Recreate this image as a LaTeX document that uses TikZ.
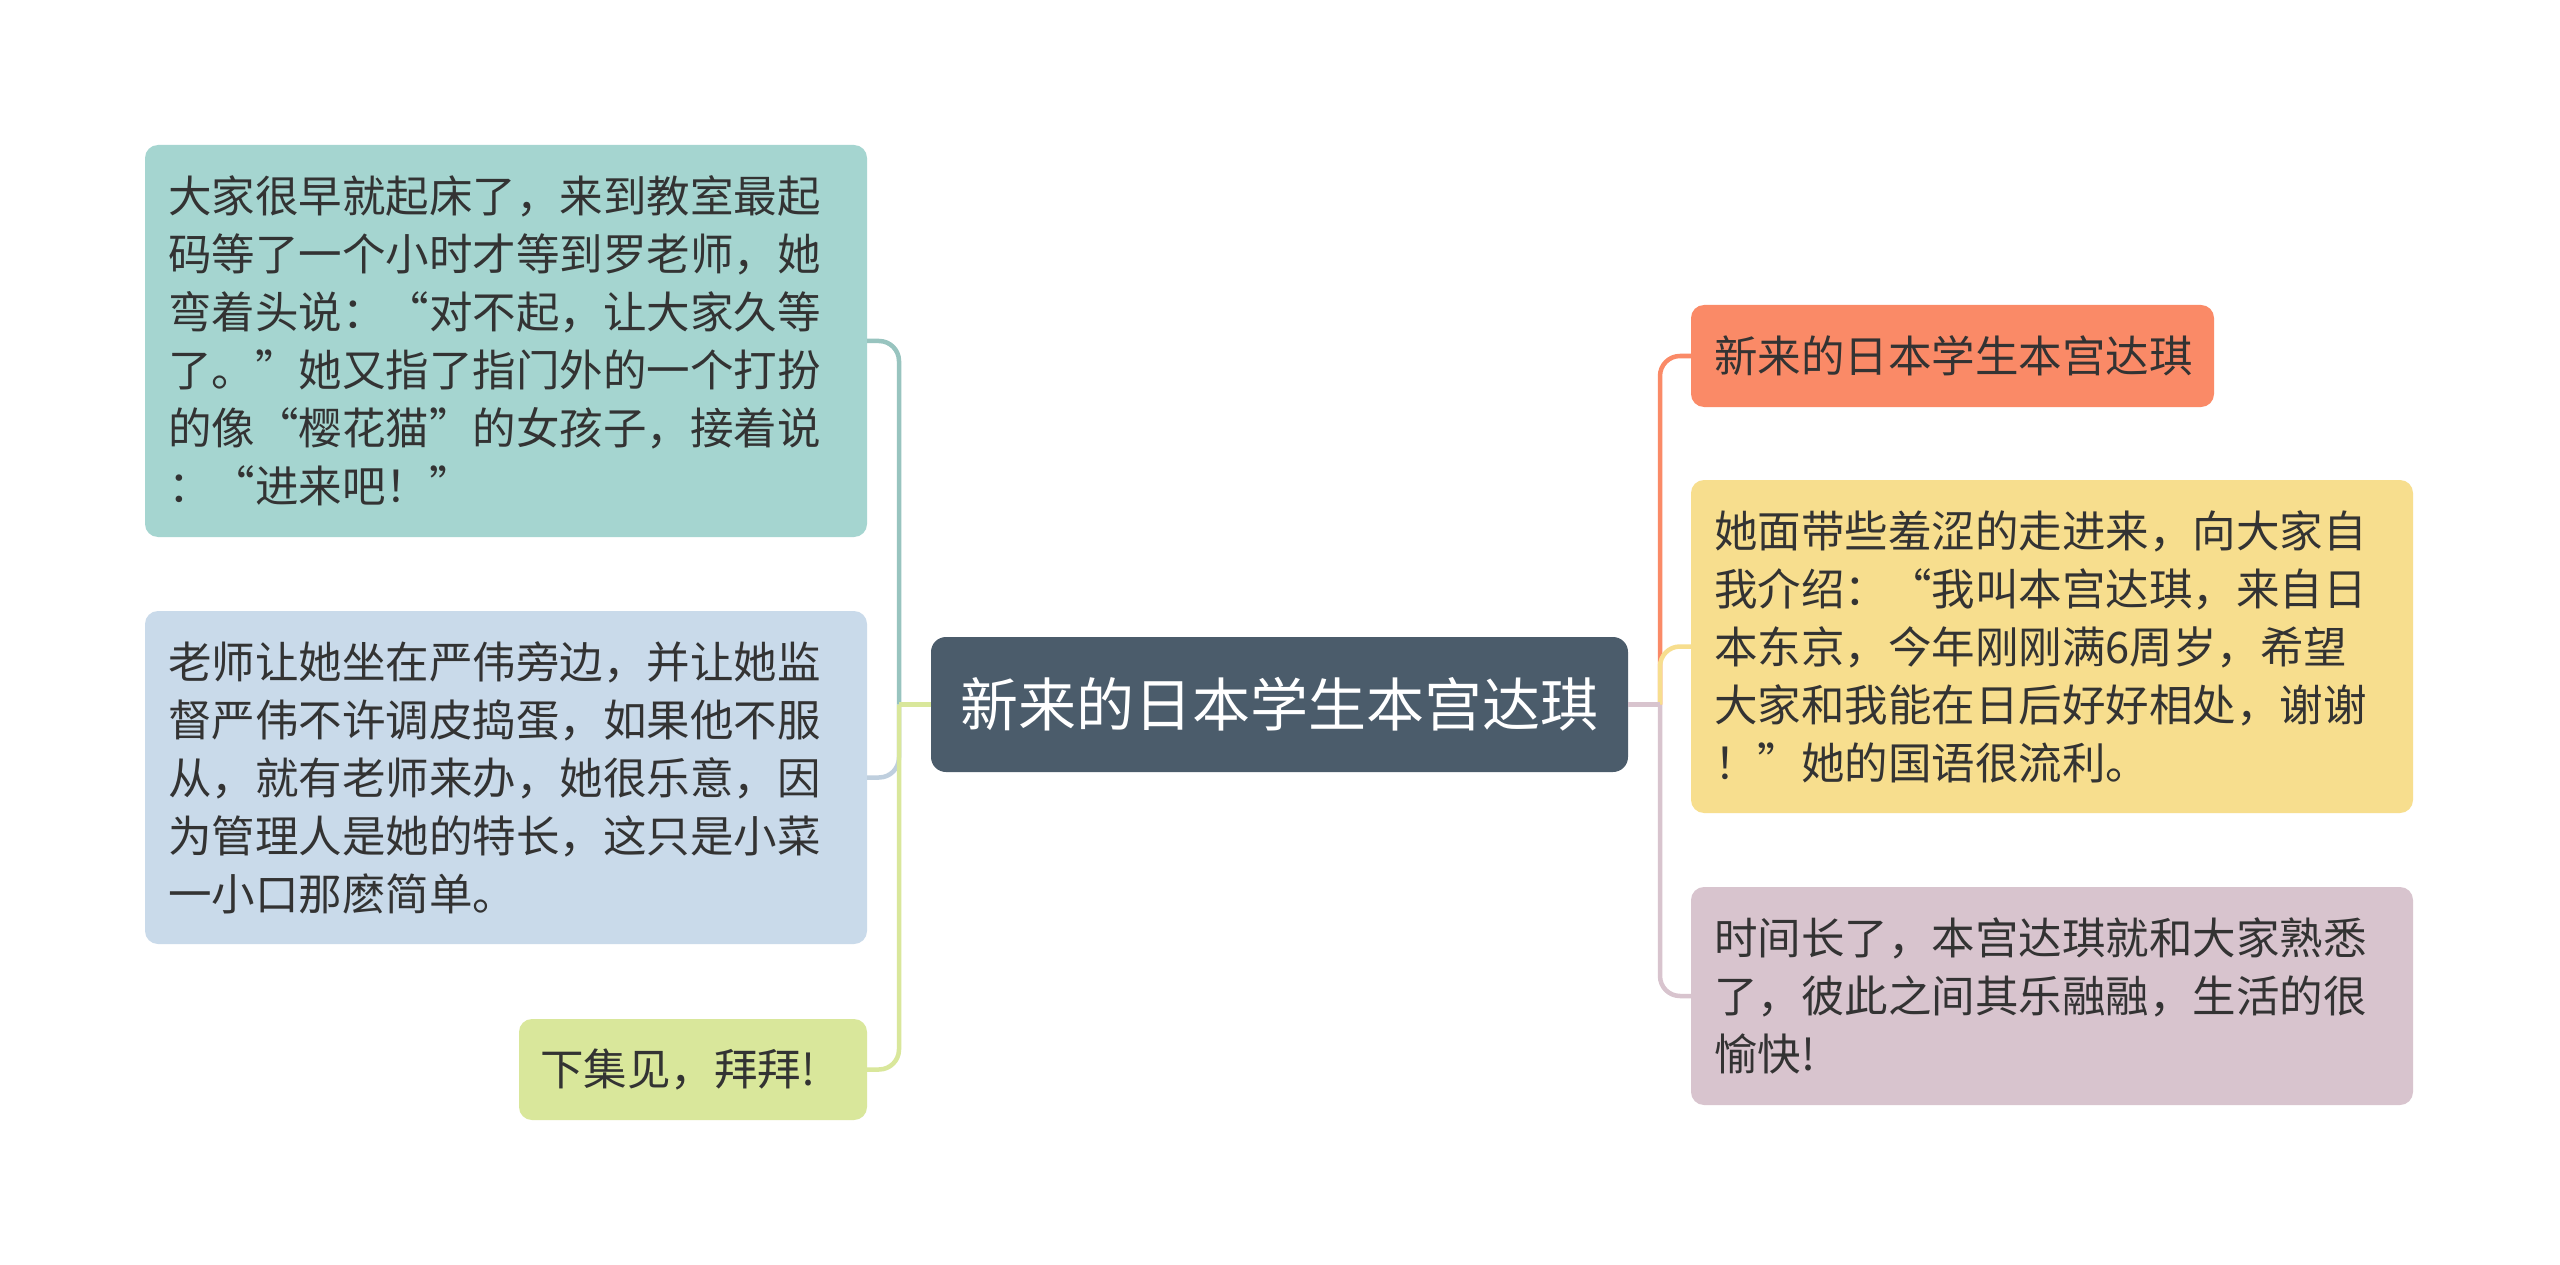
\documentclass[tikz,border=0pt]{standalone}
\usepackage{fontspec}
\newfontfamily\cjk{Noto Sans CJK SC}
\definecolor{tealbox}{HTML}{A5D5D0}
\definecolor{bluebox}{HTML}{C9DAEA}
\definecolor{greenbox}{HTML}{D9E79B}
\definecolor{centerbox}{HTML}{4B5C6B}
\definecolor{orangebox}{HTML}{FA8A67}
\definecolor{yellowbox}{HTML}{F7DE8E}
\definecolor{pinkbox}{HTML}{D8C4CE}
\definecolor{txt}{HTML}{333333}
\tikzset{
  leaf/.style={anchor=north west, rounded corners=13pt, inner xsep=23pt, inner ysep=0pt, outer sep=0pt,
    align=left, text=txt, font=\cjk\fontsize{43.5}{58}\selectfont},
  root/.style={anchor=north west, rounded corners=15pt, inner sep=0pt, outer sep=0pt,
    fill=centerbox, text=white, align=center, font=\cjk\fontsize{58}{70}\selectfont},
  link/.style={line width=4.5pt},
  curvedlink/.style={line width=4.5pt, rounded corners=20pt}
}
\begin{document}
\begin{tikzpicture}[x=1pt,y=-1pt]
\useasboundingbox[fill=white] (0,0) rectangle (2560,1265);

\coordinate (jl) at (899,704.5);
\coordinate (jr) at (1660,704.5);

% nodes
\node[root, minimum width=697pt, minimum height=135pt] (c) at (931,637) {新来的日本学生本宫达琪};

\node[leaf, fill=tealbox, text width=676pt, minimum height=392pt] (A) at (145,145)
 {大家很早就起床了，来到教室最起\\码等了一个小时才等到罗老师，她\\弯着头说：“对不起，让大家久等\\了。”她又指了指门外的一个打扮\\的像“樱花猫”的女孩子，接着说\\：“进来吧！”};
\node[leaf, fill=bluebox, text width=676pt, minimum height=333pt] (B) at (145,611)
 {老师让她坐在严伟旁边，并让她监\\督严伟不许调皮捣蛋，如果他不服\\从，就有老师来办，她很乐意，因\\为管理人是她的特长，这只是小菜\\一小口那麽简单。};
\node[leaf, fill=greenbox, inner xsep=21pt, text width=306pt, minimum height=101pt] (C) at (519,1019)
 {下集见，拜拜!};

\node[leaf, fill=orangebox, text width=477pt, minimum height=102pt] (R1) at (1691,305)
 {新来的日本学生本宫达琪};
\node[leaf, fill=yellowbox, text width=676pt, minimum height=333pt] (R2) at (1691,480)
 {她面带些羞涩的走进来，向大家自\\我介绍：“我叫本宫达琪，来自日\\本东京，今年刚刚满6周岁，希望\\大家和我能在日后好好相处，谢谢\\！”她的国语很流利。};
\node[leaf, fill=pinkbox, text width=676pt, minimum height=218pt] (R3) at (1691,887)
 {时间长了，本宫达琪就和大家熟悉\\了，彼此之间其乐融融，生活的很\\愉快!};

% left connectors
\draw[curvedlink, draw=tealbox!92!black] (jl) |- (A.east);
\draw[curvedlink, draw=bluebox!95!black] (jl) |- (B.east);
\draw[curvedlink, draw=greenbox] (jl) |- (C.east);
\draw[link, draw=greenbox] (c.west) -- (jl);

% right connectors
\draw[curvedlink, draw=orangebox] (jr) |- (R1.west);
\draw[curvedlink, draw=pinkbox] (jr) |- (R3.west);
\draw[curvedlink, draw=yellowbox] (jr) |- (R2.west);
\draw[link, draw=pinkbox] (c.east) -- (jr);
\end{tikzpicture}
\end{document}
